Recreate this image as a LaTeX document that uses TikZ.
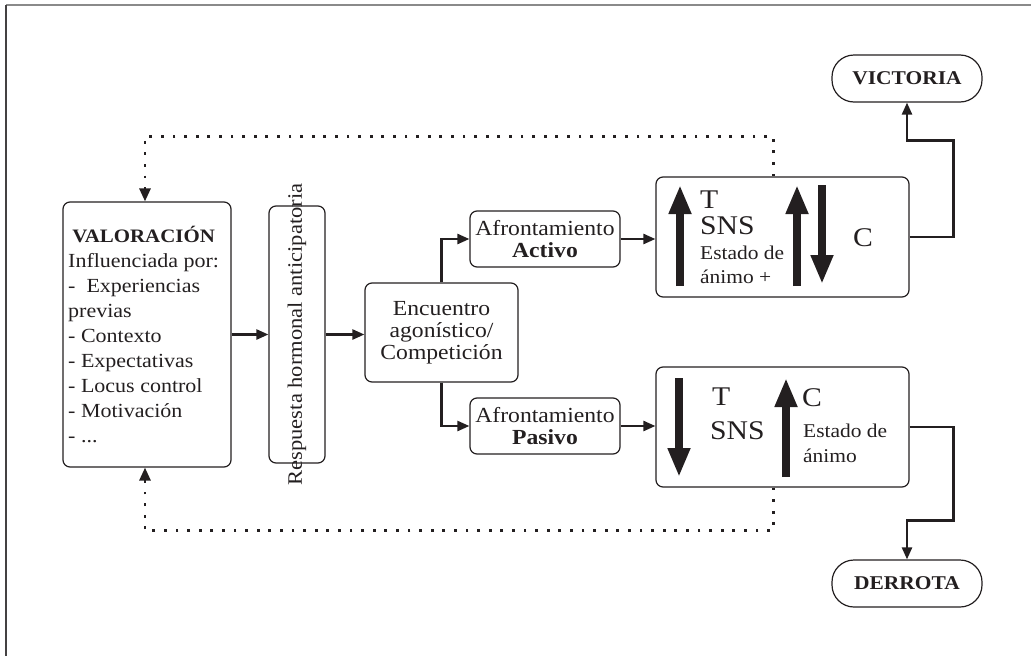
\documentclass[tikz,border=0pt]{standalone}
\usepackage{fontspec}
\setmainfont{Liberation Serif}[FakeStretch=1.1]
\usetikzlibrary{arrows.meta,calc}
\definecolor{ink}{HTML}{231F20}
\definecolor{framegray}{HTML}{8A8A8A}
\newcommand\myfs[2]{\fontsize{#1}{#2}\selectfont}
\begin{document}
\begin{tikzpicture}[x=1pt,y=-1pt,
  box/.style={draw=ink,line width=1.2pt,rounded corners=7pt,inner sep=0pt,align=center,text=ink,font=\myfs{21.5}{22}},
  pill/.style={draw=ink,line width=1.2pt,rounded corners=22pt,minimum width=150pt,minimum height=47pt,inner sep=0pt,text=ink,font=\myfs{19.5}{22}\bfseries},
  conn/.style={draw=ink,line width=2.4pt,-{Triangle[length=12pt,width=10pt]}},
  fb/.style={draw=ink,line width=2.8pt,dash pattern=on 2.8pt off 8.8pt,-{Triangle[length=13pt,width=11pt]}},
  big/.style={draw=ink,line width=7.5pt,-{Triangle[length=29pt,width=21pt]}},
  lbl/.style={anchor=base west,inner sep=0pt,text=ink},
  bigtxt/.style={lbl,font=\myfs{27}{30}},
  smalltxt/.style={lbl,font=\myfs{19.5}{22}}
]
\useasboundingbox (0,0) rectangle (1031,656);
% frame
\draw[framegray,line width=1.5pt] (6,5) -- (1031,5);
\draw[ink!85,line width=1.5pt] (6,5) -- (6,656);

% nodes
\node[box,minimum width=168pt,minimum height=265pt] (val) at (147,334.5) {};
\node[anchor=base west,inner sep=0pt,text=ink,font=\myfs{20}{25}] (valtxt) at (68,242)
  {\begin{tabular}[t]{@{}l@{}}
   \multicolumn{1}{@{}c@{}}{\myfs{19}{25}\bfseries VALORACIÓN}\\
   \multicolumn{1}{@{}c@{}}{Influenciada por:}\\
   -\ \ Experiencias\\
   previas\\
   - Contexto\\
   - Expectativas\\
   - Locus control\\
   - Motivación\\
   - ...
   \end{tabular}};
\node[box,minimum width=56pt,minimum height=257pt] (resp) at (297,334.5) {};
\node[rotate=90,inner sep=0pt,text=ink,font=\myfs{20.5}{22}] (resptxt) at (297,334.5) {Respuesta hormonal anticipatoria};
\node[box,minimum width=153pt,minimum height=99pt] (enc) at (441.5,332.5) {Encuentro\\agonístico/\\Competición};
\node[box,minimum width=150pt,minimum height=56pt] (act) at (545,239) {Afrontamiento\\\textbf{Activo}};
\node[box,minimum width=150pt,minimum height=56pt] (pas) at (545,426) {Afrontamiento\\\textbf{Pasivo}};
\node[box,minimum width=253pt,minimum height=120pt] (tbox) at (782.5,237) {};
\node[box,minimum width=253pt,minimum height=120pt] (bbox) at (782.5,427) {};
\node[pill] (vic) at (907,78.5) {VICTORIA};
\node[pill] (der) at (907,583.5) {DERROTA};

% top box contents
\node[bigtxt] (tT) at (700,208) {T};
\node[bigtxt] (tSNS) at (700,234) {SNS};
\node[smalltxt] (tE1) at (700,259) {Estado de};
\node[smalltxt] (tE2) at (700,283) {ánimo +};
\node[bigtxt] (tC) at (853,246) {C};
\draw[big] (680,286) -- (680,185);
\draw[big] (797,286) -- (797,185);
\draw[big] (822,185) -- (822,284);

% bottom box contents
\node[bigtxt] (bT) at (712,405) {T};
\node[bigtxt] (bSNS) at (710,439) {SNS};
\node[bigtxt] (bC) at (802,406) {C};
\node[smalltxt] (bE1) at (803,437) {Estado de};
\node[smalltxt] (bE2) at (803,462) {ánimo};
\draw[big] (679,378) -- (679,477);
\draw[big] (786,477) -- (786,378);

% connectors
\draw[conn] (val.east) -- (val.east -| resp.west);
\draw[conn] (resp.east) -- (resp.east -| enc.west);
\draw[conn] (enc.north) |- (act.west);
\draw[conn] (enc.south) |- (pas.west);
\draw[conn] (act.east) -- (act.east -| tbox.west);
\draw[conn] (pas.east) -- (pas.east -| bbox.west);
\draw[conn] (tbox.east) -- ++(44,0) |- ($(vic.south)+(0,38)$) -- (vic.south);
\draw[conn] (bbox.east) -- ++(44,0) |- ($(der.north)+(0,-39)$) -- (der.north);

% feedback dotted
\coordinate (dt) at ($(tbox.north west)+(118,0)$);
\coordinate (db) at ($(bbox.south west)+(118,0)$);
\draw[fb] (dt) -- ++(0,-40) -| ($(val.north)+(-2,0)$);
\draw[fb] (db) -- ++(0,43) -| ($(val.south)+(-2,0)$);
\end{tikzpicture}
\end{document}
